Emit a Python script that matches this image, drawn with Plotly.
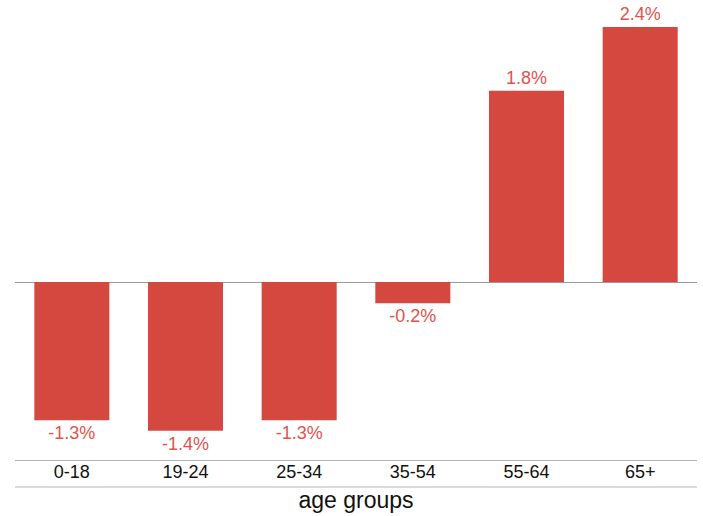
import plotly.graph_objects as go

age_groups = ["0-18", "19-24", "25-34", "35-54", "55-64", "65+"]
change_pct = [-1.3, -1.4, -1.3, -0.2, 1.8, 2.4]
value_labels = [f"{v:.1f}%" for v in change_pct]

bar_color = "#d44840"
label_color = "#df534c"
line_color = "#b3b3b3"
font_family = "Arial, Liberation Sans, sans-serif"

fig = go.Figure(
    go.Bar(
        x=age_groups,
        y=change_pct,
        marker=dict(color=bar_color, line=dict(width=0)),
        text=value_labels,
        textposition="outside",
        textfont=dict(color=label_color, size=18, family=font_family),
        constraintext="none",
        cliponaxis=False,
    )
)

fig.update_layout(
    width=703,
    height=516,
    margin=dict(l=15, r=6, t=0, b=56),
    paper_bgcolor="white",
    plot_bgcolor="white",
    bargap=0.34,
    showlegend=False,
    font=dict(family=font_family, color="#000000"),
    xaxis=dict(
        showline=True,
        linecolor=line_color,
        linewidth=1,
        ticks="",
        ticklabelstandoff=-5,
        tickfont=dict(size=18, color="#111111"),
        showgrid=False,
        title=dict(text="age groups", font=dict(size=23, color="#111111"), standoff=11),
    ),
    yaxis=dict(
        range=[-1.675, 2.654],
        showgrid=False,
        showticklabels=False,
        zeroline=True,
        zerolinecolor="#999999",
        zerolinewidth=1,
    ),
    shapes=[
        dict(
            type="line", xref="paper", yref="paper",
            x0=0, x1=1, y0=-0.0587, y1=-0.0587,
            line=dict(color=line_color, width=1),
        )
    ],
)

fig.write_html("out.html")
